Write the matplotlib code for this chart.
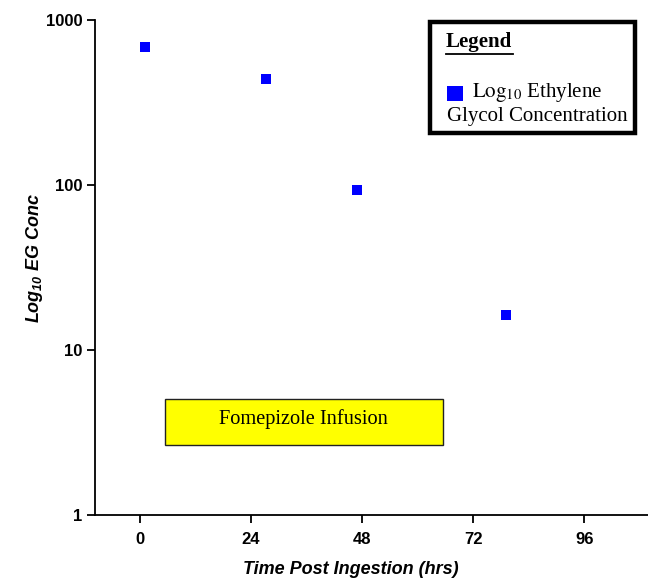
import matplotlib
matplotlib.use("Agg")
import matplotlib.pyplot as plt
from matplotlib.patches import Rectangle
from matplotlib.lines import Line2D

# data
hours = [1.2, 27.2, 46.9, 79.1]
eg_conc = [690, 438, 93, 16.2]
x_ticks = [0, 24, 48, 72, 96]
y_ticks = [1, 10, 100, 1000]

plt.rcParams["mathtext.fontset"] = "custom"
plt.rcParams["mathtext.rm"] = "Liberation Sans:bold:italic"
plt.rcParams["mathtext.it"] = "Liberation Sans:bold:italic"

sans = "Liberation Sans"
serif = "Liberation Serif"

fig = plt.figure(figsize=(6.48, 5.8), dpi=100)
ax = fig.add_axes([95 / 648, 1 - 515 / 580, 553 / 648, 495 / 580])

ax.scatter(hours, eg_conc, marker="s", s=42, color="#0000ff", linewidths=0, zorder=3)

ax.set_yscale("log")
ax.set_ylim(1, 1000)
ax.set_xlim(-9.7, 109.8)
ax.set_xticks(x_ticks)
ax.set_xticklabels([str(t) for t in x_ticks])
ax.set_yticks(y_ticks)
ax.set_yticklabels([str(t) for t in y_ticks])
ax.yaxis.set_minor_locator(matplotlib.ticker.NullLocator())

for s in ["top", "right"]:
    ax.spines[s].set_visible(False)
for s in ["left", "bottom"]:
    ax.spines[s].set_linewidth(1.3)
ax.tick_params(direction="out", length=6, width=1.3, labelsize=12)
ax.tick_params(axis="x", pad=6)
ax.tick_params(axis="y", pad=3)
for lab in ax.get_xticklabels() + ax.get_yticklabels():
    lab.set_fontfamily(sans)
    lab.set_fontweight("bold")

ax.set_xlabel("Time Post Ingestion (hrs)", fontfamily=sans, fontweight="bold",
              fontstyle="italic", fontsize=13)
ax.xaxis.set_label_coords(0.463, -0.093)
ax.set_ylabel(r"$Log_{10}$ EG Conc", fontfamily=sans, fontweight="bold",
              fontstyle="italic", fontsize=13, math_fontfamily="custom")
ax.yaxis.set_label_coords(-0.09, 0.52)

# fomepizole infusion bar
ax.add_patch(Rectangle((5.4, 2.65), 60.1, 2.4, facecolor="#ffff00",
                       edgecolor="#222222", linewidth=1.0, zorder=2))
ax.text(35.3, 3.8, "Fomepizole Infusion", ha="center", va="center",
        fontfamily=serif, fontsize=14.7, zorder=3)

# hand drawn legend box (axes fractions)
def fx(px):
    return (px - 95) / 553

def fy(py):
    return (515 - py) / 495

ax.add_patch(Rectangle((fx(430), fy(133)), fx(635) - fx(430), fy(22) - fy(133),
                       transform=ax.transAxes, facecolor="white", edgecolor="black",
                       linewidth=3.2, clip_on=False, zorder=4))
ax.text(fx(446), fy(42), "Legend", transform=ax.transAxes, ha="left", va="center",
        fontfamily=serif, fontweight="bold", fontsize=15, zorder=5)
ax.add_line(Line2D([fx(446), fx(513)], [fy(54), fy(54)], transform=ax.transAxes,
                   color="black", linewidth=1.3, clip_on=False, zorder=5))
ax.add_patch(Rectangle((fx(447), fy(101)), fx(463) - fx(447), fy(86) - fy(101),
                       transform=ax.transAxes, facecolor="#0000ff", edgecolor="none",
                       clip_on=False, zorder=5))
ax.text(fx(472), fy(93), r"$\mathrm{Log}_{10}$ Ethylene", transform=ax.transAxes,
        ha="left", va="center", fontfamily=serif, fontsize=15,
        math_fontfamily="stix", zorder=5)
ax.text(fx(447), fy(117), "Glycol Concentration", transform=ax.transAxes,
        ha="left", va="center", fontfamily=serif, fontsize=15, zorder=5)

fig.savefig("out.png", dpi=100)
